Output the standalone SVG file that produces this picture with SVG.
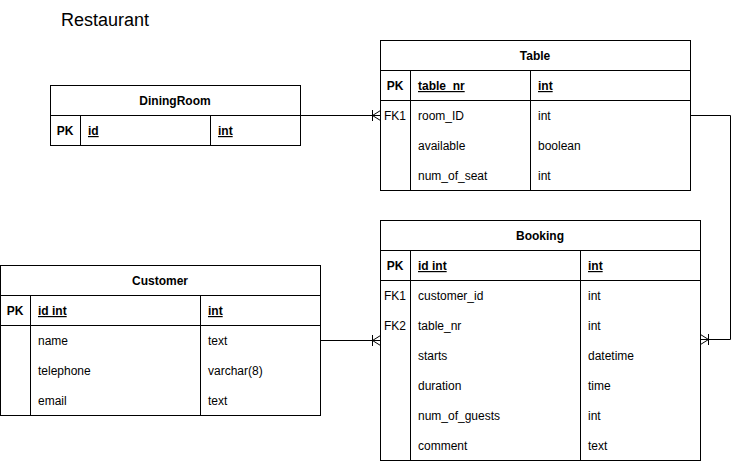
<svg xmlns="http://www.w3.org/2000/svg" width="739" height="461" viewBox="0 0 739 461">
<style>
text{font-family:"Liberation Sans",Arial,sans-serif;font-size:12px;fill:#000}
.h{font-weight:bold;text-anchor:middle}
.k{font-weight:bold;text-anchor:middle}
.c{text-anchor:middle}
.pk{font-weight:bold;text-decoration:underline}
.title{font-size:18px}
.box{fill:#fff;stroke:#000;stroke-width:1}
.ln{stroke:#000;stroke-width:1;fill:none}
</style>
<rect width="739" height="461" fill="#fff"/>
<text class="title" x="61" y="26">Restaurant</text>

<g id="connectors">
<path class="ln" d="M300.5 115.5 H380.5"/>
<path class="ln" d="M372.5 110 V121 M372.5 115.5 L380.5 110.5 M372.5 115.5 L380.5 120.5"/>
<path class="ln" d="M690.5 115.5 H730.5 V339.5 H700.5"/>
<path class="ln" d="M708.5 334 V345 M708.5 339.5 L700.5 334.5 M708.5 339.5 L700.5 344.5"/>
<path class="ln" d="M320.5 340.5 H380.5"/>
<path class="ln" d="M372.5 335 V346 M372.5 340.5 L380.5 335.5 M372.5 340.5 L380.5 345.5"/>
</g>

<g id="DiningRoom">
<rect class="box" x="50.5" y="85.5" width="250" height="60"/>
<path class="ln" d="M50.5 115.5 H300.5 M80.5 115.5 V145.5 M210.5 115.5 V145.5"/>
<text class="h" x="175" y="105">DiningRoom</text>
<text class="k" x="65" y="135">PK</text>
<text class="pk" x="88" y="135">id</text>
<text class="pk" x="218" y="135">int</text>
</g>

<g id="Table">
<rect class="box" x="380.5" y="40.5" width="310" height="150"/>
<path class="ln" d="M380.5 70.5 H690.5 M380.5 100.5 H690.5 M410.5 70.5 V190.5 M530.5 70.5 V190.5"/>
<text class="h" x="535" y="60">Table</text>
<text class="k" x="395" y="90">PK</text>
<text class="pk" x="418" y="90">table_nr</text>
<text class="pk" x="538" y="90">int</text>
<text class="c" x="395" y="120">FK1</text>
<text x="418" y="120">room_ID</text>
<text x="538" y="120">int</text>
<text x="418" y="150">available</text>
<text x="538" y="150">boolean</text>
<text x="418" y="180">num_of_seat</text>
<text x="538" y="180">int</text>
</g>

<g id="Customer">
<rect class="box" x="0.5" y="265.5" width="320" height="150"/>
<path class="ln" d="M0.5 295.5 H320.5 M0.5 325.5 H320.5 M30.5 295.5 V415.5 M200.5 295.5 V415.5"/>
<text class="h" x="160" y="285">Customer</text>
<text class="k" x="15" y="315">PK</text>
<text class="pk" x="38" y="315">id int</text>
<text class="pk" x="208" y="315">int</text>
<text x="38" y="345">name</text>
<text x="208" y="345">text</text>
<text x="38" y="375">telephone</text>
<text x="208" y="375">varchar(8)</text>
<text x="38" y="405">email</text>
<text x="208" y="405">text</text>
</g>

<g id="Booking">
<rect class="box" x="380.5" y="220.5" width="320" height="240"/>
<path class="ln" d="M380.5 250.5 H700.5 M380.5 280.5 H700.5 M410.5 250.5 V460.5 M580.5 250.5 V460.5"/>
<text class="h" x="540" y="240">Booking</text>
<text class="k" x="395" y="270">PK</text>
<text class="pk" x="418" y="270">id int</text>
<text class="pk" x="588" y="270">int</text>
<text class="c" x="395" y="300">FK1</text>
<text x="418" y="300">customer_id</text>
<text x="588" y="300">int</text>
<text class="c" x="395" y="330">FK2</text>
<text x="418" y="330">table_nr</text>
<text x="588" y="330">int</text>
<text x="418" y="360">starts</text>
<text x="588" y="360">datetime</text>
<text x="418" y="390">duration</text>
<text x="588" y="390">time</text>
<text x="418" y="420">num_of_guests</text>
<text x="588" y="420">int</text>
<text x="418" y="450">comment</text>
<text x="588" y="450">text</text>
</g>
</svg>
